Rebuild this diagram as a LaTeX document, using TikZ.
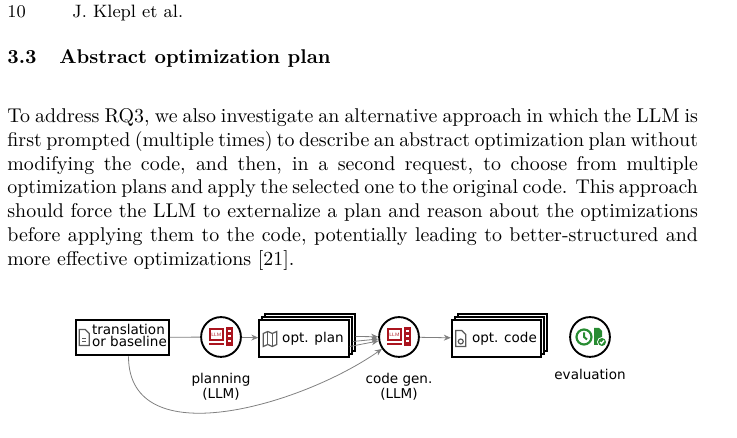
\documentclass[tikz,border=0pt]{standalone}
\usepackage{fontspec}
\newfontfamily\diagfont{DejaVu Sans}
\usetikzlibrary{positioning,arrows.meta}
\definecolor{llmred}{RGB}{170,20,30}
\definecolor{evalgreen}{RGB}{40,140,50}
\definecolor{arrowgray}{RGB}{128,128,128}
\tikzset{
  stage/.style={circle, draw, line width=0.95pt, minimum size=20pt, inner sep=0pt},
  item/.style={draw, line width=0.95pt, fill=white, minimum height=19pt, inner sep=1pt, font=\diagfont\fontsize{6.8}{8}\selectfont, align=left},
  stagelabel/.style={font=\diagfont\fontsize{6.8}{6.4}\selectfont, align=center},
  flow/.style={draw=arrowgray, -{Stealth[length=3.5pt,width=3pt]}},
}
\newcommand{\jline}[1]{\hbox to 347pt{#1}}
% red LLM computer icon
\newcommand{\llmicon}[1]{%
  \begin{scope}[shift={(#1)}, scale=1.3]
    \fill[llmred] (-9,-7) rectangle (2,3);
    \fill[white] (-7.5,-5.5) rectangle (0.5,1.5);
    \node[font=\sffamily\fontsize{2.4}{2}\selectfont, text=llmred, inner sep=0] at (-3.5,-2) {LLM};
    \fill[llmred] (-9,5) rectangle (2,6.5);
    \fill[llmred] (3.5,-8) rectangle (9,7);
    \foreach \yy in {-5,-1.5,2} \fill[white] (5,\yy) rectangle (7.5,\yy+1.5);
  \end{scope}}
\begin{document}
\begin{tikzpicture}[x=0.5025pt, y=-0.5025pt]
  \useasboundingbox (0,0) rectangle (737,438);
  % page text
  \node[anchor=base west, inner sep=0, font=\fontsize{9}{11}\selectfont] (pagenum) at (7,18) {10};
  \node[anchor=base west, inner sep=0, font=\fontsize{9}{11}\selectfont] (runhead) at (72,18) {J. Klepl et al.};
  \node[anchor=base west, inner sep=0, font=\bfseries] (secnum) at (7,64) {3.3};
  \node[anchor=base west, inner sep=0, font=\bfseries] (sectitle) at (59,64) {Abstract optimization plan};
  \node[anchor=north west, inner sep=0, align=left, font=\fontsize{10}{11.96}\selectfont] (para) at (7,108) {%
    \jline{To address RQ3, we also investigate an alternative approach in which the LLM is}\\
    \jline{first prompted (multiple times) to describe an abstract optimization plan without}\\
    \jline{modifying the code, and then, in a second request, to choose from multiple}\\
    \jline{optimization plans and apply the selected one to the original code. This approach}\\
    \jline{should force the LLM to externalize a plan and reason about the optimizations}\\
    \jline{before applying them to the code, potentially leading to better-structured and}\\
    more effective optimizations [21].};

  % diagram
  \node[item, minimum width=46pt, minimum height=18pt] (source) at (122.5,337.5) {\phantom{\rule{7pt}{1pt}}\begin{tabular}{@{}l@{}}translation\\[-1.8pt]or baseline\end{tabular}};
  \node[stage] (planner) at (221,337) {};
  \node[stagelabel, below=4pt of planner] (plannerlbl) {planning\\(LLM)};
  \foreach \k in {2,1} \node[item, minimum width=45pt, minimum height=19pt] (plan\k) at (304+3*\k,338.5-3*\k) {};
  \node[item, minimum width=45pt, minimum height=19pt] (plan) at (304,338.5) {\phantom{\rule{9pt}{1pt}}opt. plan};
  \node[stage] (coder) at (399,337) {};
  \node[stagelabel, below=4pt of coder] (coderlbl) {code gen.\\(LLM)};
  \foreach \k in {2,1} \node[item, minimum width=45pt, minimum height=19pt] (code\k) at (496.5+3*\k,338.5-3*\k) {};
  \node[item, minimum width=45pt, minimum height=19pt] (code) at (496.5,338.5) {\phantom{\rule{8pt}{1pt}}opt. code};
  \node[stage] (evaluator) at (590,337) {};
  \node[stagelabel, below=4pt of evaluator, yshift=2pt] (evallbl) {evaluation};

  % icons
  \llmicon{planner.center}
  \llmicon{coder.center}
  \begin{scope}[shift={(source.west)}, gray!70!black, line width=0.6pt]
    \draw (4,-8) -- (10,-8) -- (14,-4) -- (14,8) -- (4,8) -- cycle;
    \draw (7,1) -- (11,1) (7,4) -- (11,4);
  \end{scope}
  \begin{scope}[shift={(plan.west)}, gray!70!black, line width=0.6pt]
    \draw (5,-5) -- (9.5,-7) -- (14,-5) -- (18.5,-7) -- (18.5,6) -- (14,8) -- (9.5,6) -- (5,8) -- cycle;
    \draw (9.5,-7) -- (9.5,6) (14,-5) -- (14,8);
  \end{scope}
  \begin{scope}[shift={(code.west)}, gray!70!black, line width=0.6pt]
    \draw (5,-8) -- (11,-8) -- (15,-4) -- (15,8) -- (5,8) -- cycle;
    \draw (10,3) circle (2.5);
  \end{scope}
  \begin{scope}[shift={(evaluator.center)}]
    \draw[evalgreen, line width=1.1pt] (-6,0) circle (7.5);
    \draw[evalgreen, line width=1pt] (-6,-4.5) -- (-6,0) -- (-3,2.5);
    \fill[evalgreen] (4,-9) -- (9,-9) -- (12,-6) -- (12,8) -- (4,8) -- cycle;
    \fill[white] (12,5) circle (5);
    \fill[evalgreen] (12,5) circle (4);
    \draw[white, line width=0.7pt] (10,5) -- (11.5,6.5) -- (14,3.5);
  \end{scope}

  % connectors
  \draw[arrowgray] (source) -- (planner);
  \draw[flow] (planner) -- (plan);
  \draw[flow] (plan2.east) ++(0,4) coordinate (p2out) -- (coder);
  \draw[flow] (plan1.east) ++(0,6) coordinate (p1out) -- (coder);
  \draw[flow] (plan.east) ++(0,8) coordinate (p0out) -- (coder);
  \draw[flow] (source.south) ++(6,0) coordinate (srcout) to[out=-90, in=215] (coder);
  \draw[flow] (coder) -- (code);
\end{tikzpicture}
\end{document}
